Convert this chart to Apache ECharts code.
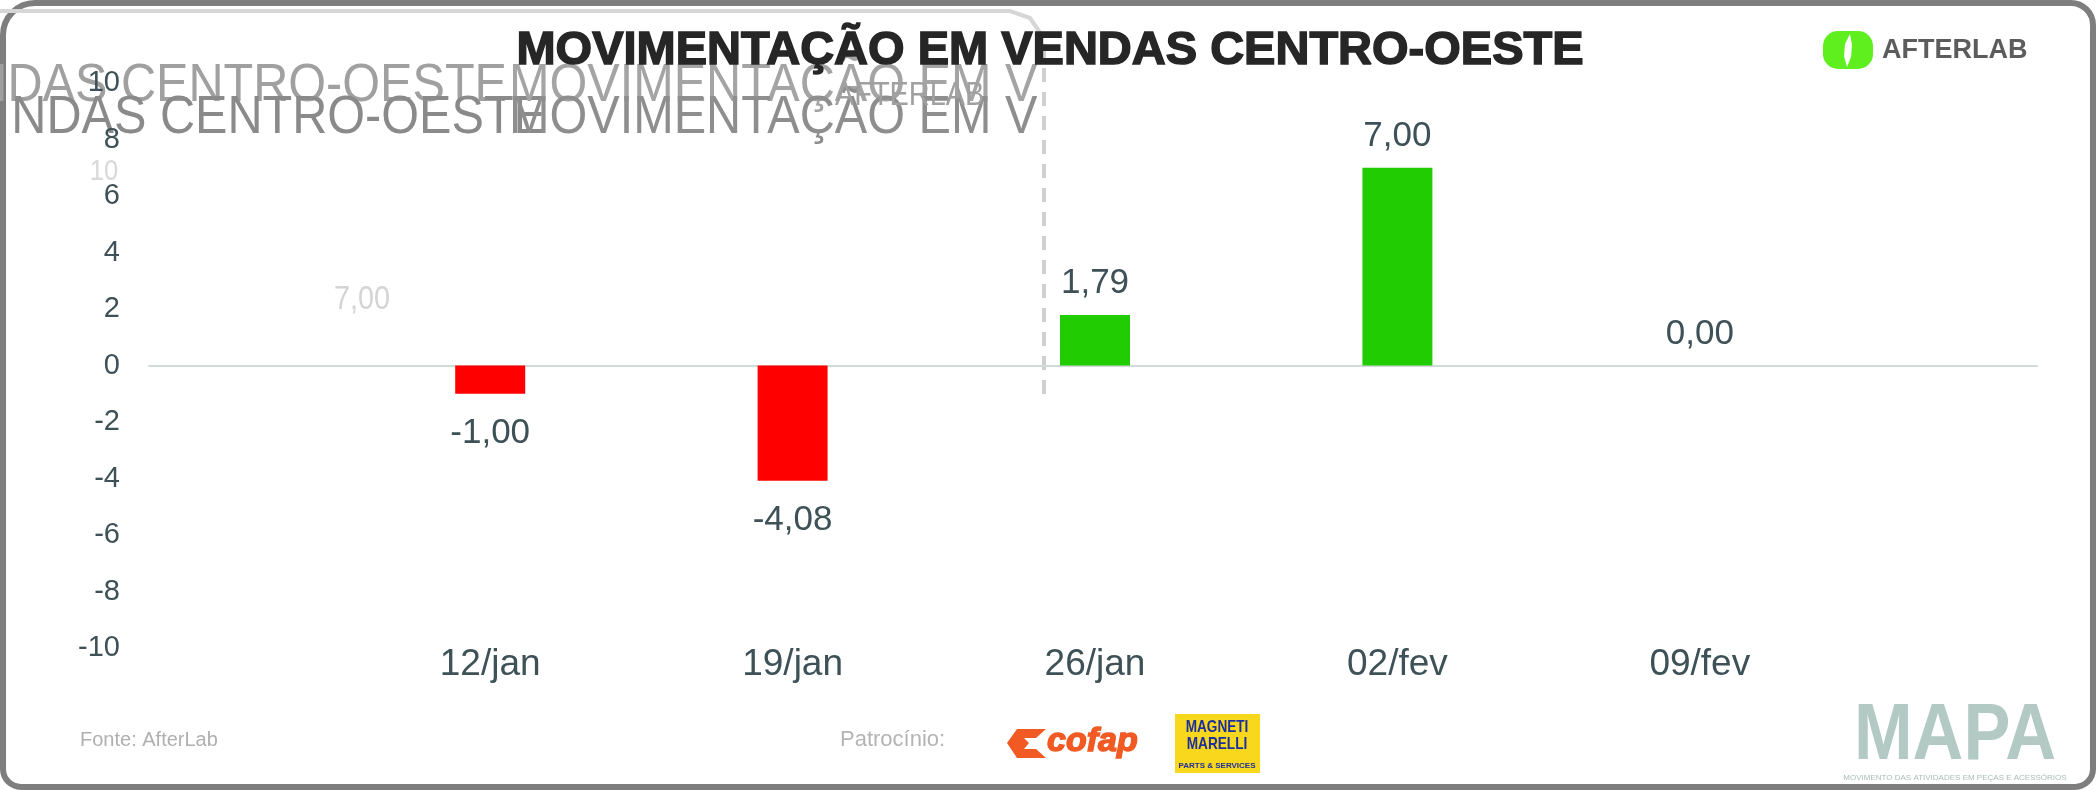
<!DOCTYPE html>
<html>
<head>
<meta charset="utf-8">
<title>Movimentação em vendas Centro-Oeste</title>
<script src="https://cdn.jsdelivr.net/npm/echarts@6/dist/echarts.min.js"></script>
<style>
    html, body { margin: 0; padding: 0; background: #fff; }
    #main { width: 2096px; height: 790px; }
</style>
</head>
<body>
<div id="main"></div>
<script>
    // dados
    const categories = ['12/jan', '19/jan', '26/jan', '02/fev', '09/fev'];
    const values = [-1.00, -4.08, 1.79, 7.00, 0.00];
    const yMin = -10;
    const yMax = 10;
    const yStep = 2;

    const title = 'MOVIMENTAÇÃO EM VENDAS CENTRO-OESTE';
    const txtColor = '#3d5157';
    const fmt = v => v.toFixed(2).replace('.', ',');

    const myChart = echarts.init(document.getElementById('main'));

    const sans = '"Liberation Sans", Arial, sans-serif';
    const ghostFont = '54px ' + sans;

    // texto "estreito": fonte normal comprimida na horizontal
    function narrowText(x, y, text, font, fill, align, sx) {
        return {
            type: 'text', silent: true, x: x, y: y, scaleX: sx,
            style: {text: text, x: 0, y: 0, align: align, verticalAlign: 'middle', fill: fill, font: font}
        };
    }

    const option = {
        animation: false,
        backgroundColor: '#fff',
        grid: [
            {left: 149, right: 59, top: 83, bottom: 142},
            {left: 339, right: 245, top: 83, bottom: 142}
        ],
        xAxis: [
            {
                gridIndex: 0, type: 'category', data: [''],
                axisLine: {show: true, lineStyle: {color: '#cfdcd8', width: 2}},
                axisTick: {show: false}, axisLabel: {show: false}
            },
            {
                gridIndex: 1, type: 'category', data: categories,
                axisLine: {show: false, onZero: false},
                axisTick: {show: false},
                axisLabel: {
                    margin: -2,
                    color: txtColor,
                    fontSize: 37,
                    fontFamily: sans
                }
            }
        ],
        yAxis: [
            {
                gridIndex: 0, type: 'value', min: yMin, max: yMax, interval: yStep,
                splitLine: {show: false}, axisLine: {show: false}, axisTick: {show: false},
                axisLabel: {
                    margin: 29,
                    color: txtColor,
                    fontSize: 29,
                    fontFamily: sans
                }
            },
            {gridIndex: 1, type: 'value', min: yMin, max: yMax, show: false}
        ],
        series: [
            {
                type: 'bar',
                xAxisIndex: 1,
                yAxisIndex: 1,
                barWidth: 70,
                data: values.map(v => ({
                    value: v,
                    itemStyle: {color: v < 0 ? '#ff0000' : '#21cc03'},
                    label: {position: v < 0 ? 'bottom' : 'top', distance: v < 0 ? 22 : 14}
                })),
                label: {
                    show: true,
                    color: txtColor,
                    fontSize: 35,
                    fontFamily: sans,
                    formatter: p => fmt(p.value)
                }
            }
        ],
        graphic: [
            // moldura
            {
                type: 'rect', silent: true,
                shape: {x: 3, y: 3, width: 2090, height: 784, r: [32, 22, 18, 18]},
                style: {fill: 'none', stroke: '#7e7e7e', lineWidth: 6}
            },
            // fantasma do recorte (topo esquerdo)
            {
                type: 'polyline', silent: true,
                shape: {points: [[0, 11], [1010, 11], [1030, 18], [1041, 34]]},
                style: {stroke: '#d6d6d6', lineWidth: 4, fill: 'none'}
            },
            {
                type: 'line', silent: true,
                shape: {x1: 1044, y1: 44, x2: 1044, y2: 400},
                style: {stroke: '#cfcfcf', lineWidth: 4, lineDash: [14, 10]}
            },
            narrowText(507, 86, 'NDAS CENTRO-OESTE', ghostFont, '#a0a0a0', 'right', 0.9),
            narrowText(546, 118, 'NDAS CENTRO-OESTE', ghostFont, '#8a8a8a', 'right', 0.9),
            narrowText(509, 86, 'MOVIMENTAÇÃO EM V', ghostFont, '#a4a4a4', 'left', 0.9),
            narrowText(509, 118, 'MOVIMENTAÇÃO EM V', ghostFont, '#8e8e8e', 'left', 0.9),
            narrowText(835, 96, 'AFTERLAB', '34px ' + sans, '#a0a0a0', 'left', 0.85),
            narrowText(362, 300, '7,00', '34px ' + sans, '#d4d4d4', 'center', 0.85),
            narrowText(104, 172, '10', '30px ' + sans, '#d8d8d8', 'center', 0.85),
            // título
            {
                type: 'text', silent: true,
                style: {
                    text: title, x: 1050, y: 51, align: 'center', verticalAlign: 'middle',
                    fill: '#262626', stroke: '#262626', lineWidth: 1.5,
                    font: 'bold 47px ' + sans
                }
            },
            // logo AfterLab
            {
                type: 'rect', silent: true,
                shape: {x: 1823, y: 31, width: 50, height: 38, r: 15},
                style: {fill: '#5fee1e'}
            },
            {
                type: 'polygon', silent: true,
                shape: {points: [[1850, 34], [1845, 44], [1844, 56], [1847, 67], [1851, 57], [1852, 45]]},
                style: {fill: '#fff'}
            },
            {
                type: 'text', silent: true,
                style: {text: 'AFTERLAB', x: 1882, y: 51, align: 'left', verticalAlign: 'middle', fill: '#5c5c5c', font: 'bold 27px ' + sans}
            },
            // rodapé
            {
                type: 'text', silent: true,
                style: {text: 'Fonte: AfterLab', x: 80, y: 740, align: 'left', verticalAlign: 'middle', fill: '#b0b0b0', font: '20px ' + sans}
            },
            {
                type: 'text', silent: true,
                style: {text: 'Patrocínio:', x: 840, y: 740, align: 'left', verticalAlign: 'middle', fill: '#b4b4b4', font: '22px ' + sans}
            },
            {
                type: 'polygon', silent: true,
                shape: {points: [[1017, 729], [1046, 729], [1036, 738], [1024, 738], [1029, 743], [1024, 749], [1036, 749], [1046, 758], [1017, 758], [1007, 743]]},
                style: {fill: '#f15a22'}
            },
            {
                type: 'text', silent: true,
                style: {text: 'cofap', x: 1047, y: 742, align: 'left', verticalAlign: 'middle', fill: '#f15a22', stroke: '#f15a22', lineWidth: 1.5, font: 'italic bold 34px ' + sans}
            },
            {
                type: 'rect', silent: true,
                shape: {x: 1175, y: 714, width: 85, height: 59},
                style: {fill: '#f9d71c'}
            },
            narrowText(1217, 736, 'MAGNETI\nMARELLI', 'bold 17px ' + sans, '#1c2f9e', 'center', 0.8),
            {
                type: 'text', silent: true,
                style: {text: 'PARTS & SERVICES', x: 1217, y: 766, align: 'center', verticalAlign: 'middle', fill: '#1c2f9e', font: 'bold 8px ' + sans}
            },
            narrowText(1955, 737, 'MAPA', 'bold 80px ' + sans, '#b2cac3', 'center', 0.88),
            {
                type: 'text', silent: true,
                style: {text: 'MOVIMENTO DAS ATIVIDADES EM PEÇAS E ACESSÓRIOS', x: 1955, y: 778, align: 'center', verticalAlign: 'middle', fill: '#a9bdb7', font: '8px ' + sans}
            }
        ]
    };

    myChart.setOption(option);
</script>
</body>
</html>
